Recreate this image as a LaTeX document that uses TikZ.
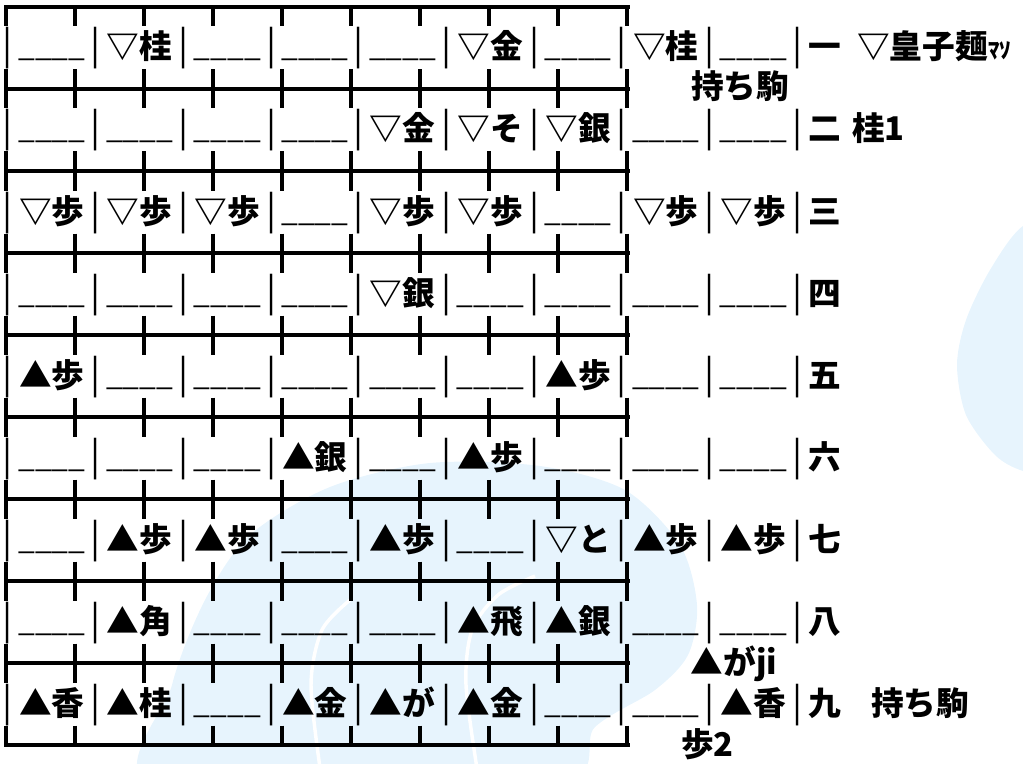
\documentclass[tikz,border=0pt]{standalone}
\usepackage{fontspec}
\newfontfamily\jpfont{Noto Sans CJK JP}
\usepackage{xcolor}
\definecolor{bgblue}{HTML}{E7F4FD}
\usepackage{tikz}
\usetikzlibrary{positioning}
\newcommand{\emptysq}{\raisebox{1.5pt}{\mdseries\fontsize{22.5}{26}\selectfont\_\_\_\_}}

\begin{document}
\begin{tikzpicture}[x=0.75pt, y=-0.75pt,
    rule/.style={line width=2.3pt},
    glyph/.style={inner sep=0pt, anchor=base, font=\jpfont\bfseries\fontsize{24.5}{28}\selectfont},
    sep/.style={inner sep=0pt, anchor=base, font=\jpfont\fontsize{28}{32}\selectfont},
    kana/.style={inner sep=0pt, anchor=base west, font=\jpfont\bfseries\fontsize{17}{20}\selectfont},
]
    \useasboundingbox (0,0) rectangle (1023,763);
    % background shapes
    \fill[bgblue] plot[smooth cycle] coordinates {(158,790) (172,685) (205,600) (250,535) (330,487) (430,463) (540,466) (625,490) (680,545) (697,605) (688,655) (655,690) (595,727) (548,790)};
    \fill[bgblue] plot[smooth cycle] coordinates {(1023,226) (990,270) (966,320) (957,365) (966,415) (995,455) (1023,471) (1070,480) (1070,215)};
    \draw[white, line width=2.6pt] plot[smooth] coordinates {(321,775) (311,685) (322,630) (350,600)};
    \draw[white, line width=2.6pt] plot[smooth] coordinates {(478,775) (466,685) (472,630) (498,595) (535,576)};

    % board rules
    \foreach \k in {0,...,9} {
        \pgfmathsetmacro\yy{7+82*\k}
        \pgfmathsetmacro\up{\k==0 ? 0 : 19.5}
        \pgfmathsetmacro\dn{\k==9 ? 0 : 19.5}
        \draw[rule, line cap=rect] (6,\yy) -- (628,\yy);
        \foreach \j in {0,...,9}
            \draw[rule] ({6+69*\j},\yy-\up) -- ({6+69*\j},\yy+\dn);
    }

    % rows of pieces
    \foreach \cells [count=\k] in {
        {\emptysq,▽桂,\emptysq,\emptysq,\emptysq,▽金,\emptysq,▽桂,\emptysq,一},
        {\emptysq,\emptysq,\emptysq,\emptysq,▽金,▽そ,▽銀,\emptysq,\emptysq,二},
        {▽歩,▽歩,▽歩,\emptysq,▽歩,▽歩,\emptysq,▽歩,▽歩,三},
        {\emptysq,\emptysq,\emptysq,\emptysq,▽銀,\emptysq,\emptysq,\emptysq,\emptysq,四},
        {▲歩,\emptysq,\emptysq,\emptysq,\emptysq,\emptysq,▲歩,\emptysq,\emptysq,五},
        {\emptysq,\emptysq,\emptysq,▲銀,\emptysq,▲歩,\emptysq,\emptysq,\emptysq,六},
        {\emptysq,▲歩,▲歩,\emptysq,▲歩,\emptysq,▽と,▲歩,▲歩,七},
        {\emptysq,▲角,\emptysq,\emptysq,\emptysq,▲飛,▲銀,\emptysq,\emptysq,八},
        {▲香,▲桂,\emptysq,▲金,▲が,▲金,\emptysq,\emptysq,▲香,九}} {
        \pgfmathsetmacro\yb{59+82*(\k-1)}
        \foreach \i in {0,...,9}
            \node[sep] (bar-\k-\i) at ({8+87.7*\i},\yb) {|};
        \foreach \c [count=\i] in \cells {
            \pgfmathsetmacro\cx{\i<10 ? 51.85+87.7*(\i-1) : 825}
            \node[glyph] (p-\k-\i) at (\cx,\yb) {\c};
        }
    }

    % pieces in hand
    \node[glyph] (hand-gote) at (740,99) {持ち駒};
    \node[glyph, anchor=base west] (name-gote) at (857,59) {▽皇子麺};
    \node[kana] (name-gote-x) at (name-gote.base east) {ﾏｿ};
    \node[glyph, anchor=base west] (kei-gote) at (852,141) {桂1};
    \node[glyph] (name-sente) at (734,674) {▲がji};
    \node[glyph] (hand-sente) at (920,715) {持ち駒};
    \node[glyph, anchor=base west] (fu-sente) at (681,756) {歩2};
\end{tikzpicture}
\end{document}
